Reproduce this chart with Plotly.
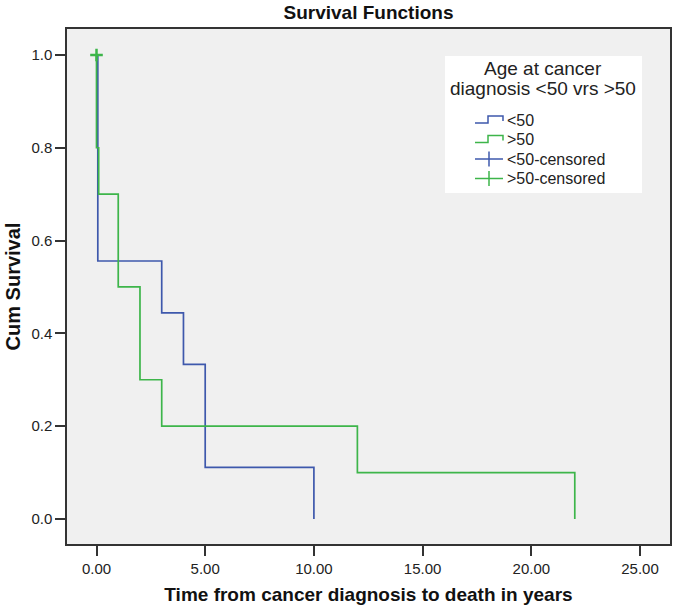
import plotly.graph_objects as go

# <50 group (Kaplan-Meier steps)
lt50_time = [0.0, 0.06, 3.0, 4.0, 5.0, 10.0]
lt50_surv = [1.0, 0.556, 0.444, 0.333, 0.111, 0.0]

# >50 group
gt50_time = [0.0, 0.0, 0.1, 1.0, 2.0, 3.0, 12.0, 22.0]
gt50_surv = [1.0, 0.8, 0.7, 0.5, 0.3, 0.2, 0.1, 0.0]

# censored points (none visible for <50)
gt50_cens_time = [0.0]
gt50_cens_surv = [1.0]
lt50_cens_time = [None]
lt50_cens_surv = [None]

x_ticks = [0, 5, 10, 15, 20, 25]
y_ticks = [0.0, 0.2, 0.4, 0.6, 0.8, 1.0]

legend_title = ["Age at cancer", "diagnosis <50 vrs >50"]
legend_labels = ["<50", ">50", "<50-censored", ">50-censored"]

BLUE = "#3E58AC"
GREEN = "#3DB54A"
FONT = "Liberation Sans, Arial, sans-serif"

W, H = 675, 612
ML, MR, MT, MB = 67, 5, 29, 68
PW, PH = W - ML - MR, H - MT - MB


def px(x):
    return (x - ML) / PW


def py(y):
    return (H - MB - y) / PH


fig = go.Figure()
fig.add_trace(go.Scatter(x=lt50_time, y=lt50_surv, mode="lines", line_shape="hv",
                         line=dict(color=BLUE, width=1.7), name=legend_labels[0]))
fig.add_trace(go.Scatter(x=gt50_time, y=gt50_surv, mode="lines", line_shape="hv",
                         line=dict(color=GREEN, width=1.7), name=legend_labels[1]))
fig.add_trace(go.Scatter(x=lt50_cens_time, y=lt50_cens_surv, mode="markers",
                         marker=dict(symbol="cross-thin", size=9, line=dict(color=BLUE, width=2)),
                         name=legend_labels[2]))
fig.add_trace(go.Scatter(x=gt50_cens_time, y=gt50_cens_surv, mode="markers",
                         marker=dict(symbol="cross-thin", size=9, line=dict(color=GREEN, width=2.5)),
                         name=legend_labels[3]))

# ---- manual legend (SPSS style) ----
shapes = [dict(type="rect", xref="paper", yref="paper",
               x0=px(445), x1=px(642), y0=py(193), y1=py(56),
               fillcolor="white", line=dict(width=0), layer="above")]
annotations = []
for i, t in enumerate(legend_title):
    annotations.append(dict(xref="paper", yref="paper", x=px(543), y=py(68 + 21 * i),
                            text=t, showarrow=False, xanchor="center", yanchor="middle",
                            font=dict(size=19, color="#222")))
rows = [120, 139.5, 159, 178.5]
colors = [BLUE, GREEN, BLUE, GREEN]
for i, (lab, r, c) in enumerate(zip(legend_labels, rows, colors)):
    if i < 2:
        pts = [(475, r + 3), (488, r + 3), (488, r - 4), (503, r - 4), (503, r + 1)]
        path = "M " + " L ".join(f"{px(a):.5f},{py(b):.5f}" for a, b in pts)
        shapes.append(dict(type="path", xref="paper", yref="paper", path=path,
                           line=dict(color=c, width=1.5), layer="above"))
    else:
        shapes.append(dict(type="line", xref="paper", yref="paper",
                           x0=px(475), x1=px(503), y0=py(r), y1=py(r),
                           line=dict(color=c, width=1.5), layer="above"))
        shapes.append(dict(type="line", xref="paper", yref="paper",
                           x0=px(489), x1=px(489), y0=py(r - 7.5), y1=py(r + 7.5),
                           line=dict(color=c, width=1.5), layer="above"))
    annotations.append(dict(xref="paper", yref="paper", x=px(505), y=py(r),
                            text=lab, showarrow=False, xanchor="left", yanchor="middle",
                            font=dict(size=16, color="#222")))

fig.update_layout(
    width=W, height=H,
    margin=dict(l=ML, r=MR, t=MT, b=MB),
    paper_bgcolor="white", plot_bgcolor="#F0F0F0",
    font=dict(family=FONT, size=15, color="#222"),
    title=dict(text="<b>Survival Functions</b>", x=(ML + W - MR) / 2 / W, xanchor="center",
               y=1 - 12 / H, yanchor="middle", font=dict(size=19, color="#111")),
    showlegend=False,
    shapes=shapes,
    annotations=annotations,
    xaxis=dict(range=[-1.357, 26.38], tickvals=x_ticks, tickformat=".2f",
               showgrid=False, zeroline=False, showline=True, mirror=True,
               linecolor="#333", linewidth=1.5, ticks="outside", ticklen=10,
               tickcolor="#333", tickwidth=1.5, automargin=False,
               tickfont=dict(size=15, color="#222"),
               title=dict(text="<b>Time from cancer diagnosis to death in years</b>",
                          font=dict(size=19, color="#111"), standoff=12)),
    yaxis=dict(range=[-0.054, 1.056], tickvals=y_ticks, tickformat=".1f",
               showgrid=False, zeroline=False, showline=True, mirror=True,
               linecolor="#333", linewidth=1.5, ticks="outside", ticklen=10,
               tickcolor="#333", tickwidth=1.5, automargin=False,
               tickfont=dict(size=15, color="#222"),
               title=dict(text="<b>Cum Survival</b>", font=dict(size=20, color="#111"),
                          standoff=5)),
)

fig.write_html("out.html", config={"displayModeBar": False},
               post_script="document.body.style.margin='0';")
